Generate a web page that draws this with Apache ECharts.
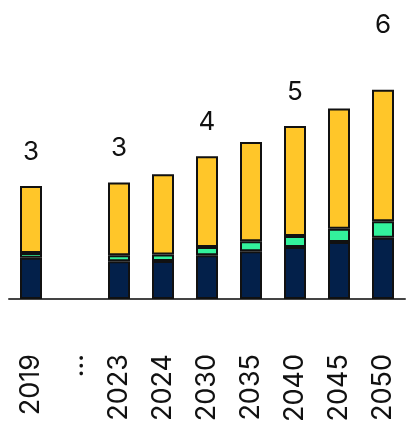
<!DOCTYPE html>
<html>
<head>
<meta charset="utf-8">
<script src="https://cdn.jsdelivr.net/npm/echarts@6/dist/echarts.min.js"></script>
<style>
  html, body { margin: 0; padding: 0; background: #fff; }
  #chart { width: 406px; height: 425px; }
</style>
</head>
<body>
<div id="chart"></div>
<script>
// Years on the x axis; "..." marks the gap between 2019 and 2023
const categories = ['2019', '...', '2023', '2024', '2030', '2035', '2040', '2045', '2050'];

// Stacked components (bottom to top)
const baseValues   = [1.15, null, 1.05, 1.06, 1.22, 1.33, 1.45, 1.59, 1.71];
const greenValues  = [0.13, null, 0.17, 0.18, 0.23, 0.28, 0.31, 0.37, 0.46];
const yellowValues = [1.87, null, 2.03, 2.24, 2.53, 2.77, 3.06, 3.35, 3.66];

// Rounded totals printed above selected bars
const totalLabels = [3, null, 3, null, 4, null, 5, null, 6];

const chart = echarts.init(document.getElementById('chart'), null, { renderer: 'canvas' });

const FONT = 'Inter, sans-serif';
const segStyle = (color) => ({
  color: color,
  borderColor: '#111',
  borderWidth: 2
});

const yellowData = yellowValues.map((v, i) => {
  const t = totalLabels[i];
  if (v == null) return null;
  const total = baseValues[i] + greenValues[i] + v;
  return {
    value: v,
    label: {
      show: t != null,
      position: 'top',
      distance: i === categories.length - 1 ? 52 : 21,
      formatter: () => (t != null ? String(Math.round(total)) : '')
    }
  };
});

chart.setOption({
  animation: false,
  grid: { left: 9, right: 1, top: 12, bottom: 125 },
  xAxis: {
    type: 'category',
    data: categories,
    axisTick: { show: false },
    axisLine: { lineStyle: { color: '#444', width: 2 } },
    axisLabel: {
      rotate: 90,
      margin: 55,
      fontSize: 27,
      fontFamily: FONT,
      color: '#111',
      interval: 0
    }
  },
  yAxis: {
    type: 'value',
    min: 0,
    max: 8,
    show: false,
    splitLine: { show: false }
  },
  series: [
    {
      name: 'base',
      type: 'bar',
      stack: 'total',
      barWidth: 22,
      data: baseValues,
      itemStyle: segStyle('#03204A')
    },
    {
      name: 'green',
      type: 'bar',
      stack: 'total',
      barWidth: 22,
      data: greenValues,
      itemStyle: segStyle('#33F29C')
    },
    {
      name: 'yellow',
      type: 'bar',
      stack: 'total',
      barWidth: 22,
      data: yellowData,
      itemStyle: segStyle('#FFC629'),
      label: {
        fontSize: 26,
        fontFamily: FONT,
        color: '#111'
      }
    }
  ]
});
</script>
</body>
</html>
